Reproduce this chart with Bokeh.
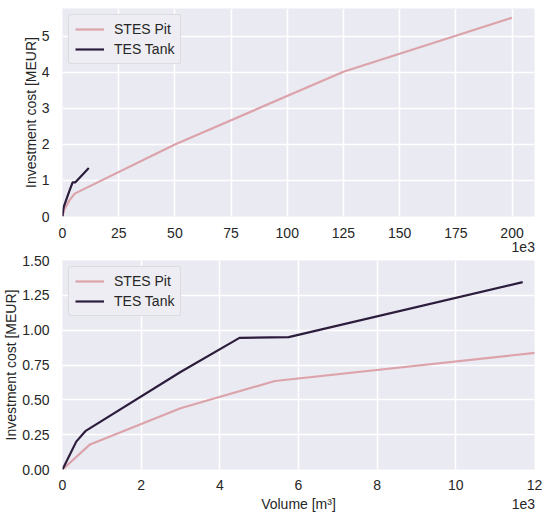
from bokeh.plotting import figure
from bokeh.models import Range1d, FixedTicker, Legend, LegendItem, LinearAxis
from bokeh.layouts import column
from bokeh.embed import file_html
from bokeh.resources import INLINE

# data (volume in 1e3 m3, cost in MEUR)
pit_vol = [0, 0.7, 3.0, 5.4, 50, 125, 200]
pit_cost = [0, 0.18, 0.44, 0.635, 2.0, 4.02, 5.52]
tank_vol = [0, 0.35, 0.58, 3.0, 4.5, 5.75, 11.7]
tank_cost = [0, 0.2, 0.275, 0.70, 0.945, 0.95, 1.345]

top_xticks = [0, 25, 50, 75, 100, 125, 150, 175, 200]
top_yticks = [0, 1, 2, 3, 4, 5]
bot_xticks = [0, 2, 4, 6, 8, 10, 12]
bot_yticks = [0, 0.25, 0.5, 0.75, 1.0, 1.25, 1.5]
bot_ylabels = {0: "0.00", 0.25: "0.25", 0.5: "0.50", 0.75: "0.75", 1.0: "1.00", 1.25: "1.25", 1.5: "1.50"}

# offset/axis texts placed in the row under the tick labels
top_offset_text = {205: "1e3"}
bot_offset_text = {6: "Volume [m³]", 11.72: "1e3"}

PIT_COLOR = "#dca3aa"
TANK_COLOR = "#2c1d3d"
FONT = "Liberation Sans"
TXT = "#262626"


def style_axis(ax):
    ax.axis_line_color = None
    ax.major_tick_line_color = None
    ax.minor_tick_line_color = None
    ax.major_label_text_font = FONT
    ax.major_label_text_font_size = "14px"
    ax.major_label_text_color = TXT
    ax.axis_label_text_font = FONT
    ax.axis_label_text_font_size = "14px"
    ax.axis_label_text_font_style = "normal"
    ax.axis_label_text_color = TXT


def style(p):
    p.background_fill_color = "#EAEAF2"
    p.border_fill_color = "white"
    p.outline_line_color = None
    for ax in p.axis:
        style_axis(ax)
    p.yaxis.major_label_standoff = 7
    p.yaxis.axis_label_standoff = 0
    p.xaxis.major_label_standoff = 5
    for g in p.grid:
        g.grid_line_color = "white"
        g.grid_line_width = 1.5


def add_text_row(p, texts, standoff):
    ax = LinearAxis(ticker=FixedTicker(ticks=list(texts.keys())),
                    major_label_overrides=texts)
    style_axis(ax)
    ax.major_label_standoff = standoff
    p.add_layout(ax, "below")


def add_legend(p, r1, r2):
    leg = Legend(items=[LegendItem(label="STES Pit", renderers=[r1]),
                        LegendItem(label="TES Tank", renderers=[r2])],
                 location="top_left")
    leg.label_text_font = FONT
    leg.label_text_font_size = "14px"
    leg.label_text_color = TXT
    leg.glyph_width = 29
    leg.glyph_height = 16
    leg.label_height = 16
    leg.label_standoff = 10
    leg.spacing = 4
    leg.padding = 6
    leg.margin = 6
    leg.border_line_color = "#cccccc"
    leg.border_line_width = 1
    leg.background_fill_color = "#EDEDF3"
    leg.background_fill_alpha = 1.0
    leg.border_radius = 3
    p.add_layout(leg)


# top figure
p1 = figure(width=550, height=254, output_backend="svg", toolbar_location=None,
            x_range=Range1d(0, 210), y_range=Range1d(0, 5.775),
            min_border_left=62, min_border_right=16, min_border_top=8, min_border_bottom=38)
r1 = p1.line(pit_vol, pit_cost, line_color=PIT_COLOR, line_width=2.2)
r2 = p1.line(tank_vol, tank_cost, line_color=TANK_COLOR, line_width=2.2)
p1.xaxis.ticker = FixedTicker(ticks=top_xticks)
p1.yaxis.ticker = FixedTicker(ticks=top_yticks)
p1.yaxis.axis_label = "Investment cost [MEUR]"
style(p1)
add_text_row(p1, top_offset_text, -5)
add_legend(p1, r1, r2)

# bottom figure
p2 = figure(width=550, height=262, output_backend="svg", toolbar_location=None,
            x_range=Range1d(0, 12), y_range=Range1d(0, 1.5),
            min_border_left=62, min_border_right=16, min_border_top=6, min_border_bottom=47)
q1 = p2.line(pit_vol, pit_cost, line_color=PIT_COLOR, line_width=2.2)
q2 = p2.line(tank_vol, tank_cost, line_color=TANK_COLOR, line_width=2.2)
p2.xaxis.ticker = FixedTicker(ticks=bot_xticks)
p2.yaxis.ticker = FixedTicker(ticks=bot_yticks)
p2.yaxis.major_label_overrides = bot_ylabels
p2.yaxis.axis_label = "Investment cost [MEUR]"
style(p2)
p2.xaxis.major_label_standoff = 4
add_text_row(p2, bot_offset_text, -3)
add_legend(p2, q1, q2)

layout = column(p1, p2, spacing=0)
open("out.html", "w").write(file_html(layout, INLINE))
